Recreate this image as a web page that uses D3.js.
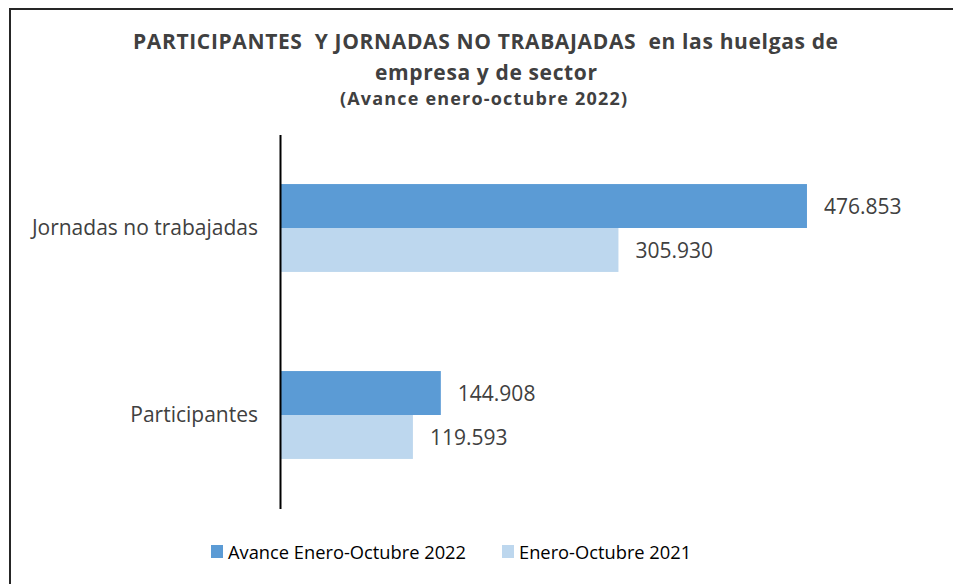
<!DOCTYPE html>
<html>
<head>
<meta charset="utf-8">
<script src="https://cdn.jsdelivr.net/npm/d3@7"></script>
<style>
  body { margin: 0; background: #fff; }
  svg { display: block; font-family: "Open Sans", sans-serif; }
</style>
</head>
<body>
<svg id="chart"></svg>
<script>
const categories = ["Jornadas no trabajadas", "Participantes"];
const seriesNames = ["Avance Enero-Octubre 2022", "Enero-Octubre 2021"];
const values2022 = [476853, 144908];
const values2021 = [305930, 119593];
const titleLines = ["PARTICIPANTES  Y JORNADAS NO TRABAJADAS  en las huelgas de", "empresa y de sector", "(Avance enero-octubre 2022)"];

const colors = ["#5B9BD5", "#BDD7EE"];
var width = 953, height = 584;

var svg = d3.select("#chart").attr("width", width).attr("height", height);

// frame (right and bottom edges run off the picture)
svg.append("rect")
  .attr("x", 10).attr("y", 9)
  .attr("width", 960).attr("height", 600)
  .attr("fill", "none").attr("stroke", "#262626").attr("stroke-width", 2);

// title, stretched to the widths in the original
var title = svg.append("g").attr("fill", "#404040").attr("font-weight", "bold").attr("text-anchor", "middle");
[
  {y: 49, size: 21, len: 705, cx: 485.5},
  {y: 80, size: 21, len: 222, cx: 486},
  {y: 105, size: 18, len: 287, cx: 483.5}
].forEach((t, i) => {
  title.append("text")
    .attr("x", t.cx).attr("y", t.y)
    .attr("font-size", t.size)
    .attr("textLength", t.len).attr("lengthAdjust", "spacing")
    .attr("xml:space", "preserve")
    .style("white-space", "pre")
    .text(titleLines[i]);
});

var locale = d3.formatLocale({decimal: ",", thousands: ".", grouping: [3], currency: ["", "€"]});
var fmt = locale.format(",d");

var y = d3.scaleBand().domain(categories).range([134.5, 508.5]).paddingInner(0.53).paddingOuter(0.265);
var ySub = d3.scaleBand().domain(seriesNames).range([0, y.bandwidth()]);
var x = d3.scaleLinear().domain([0, 500000]).range([281, 832.5]);

var rows = categories.map((c, i) => ({cat: c, vals: [values2022[i], values2021[i]]}));

var groups = svg.selectAll("g.cat").data(rows).enter().append("g")
  .attr("class", "cat")
  .attr("transform", d => "translate(0," + y(d.cat) + ")");

groups.selectAll("rect").data(d => d.vals.map((v, j) => ({v: v, s: seriesNames[j], j: j})))
  .enter().append("rect")
  .attr("x", x(0))
  .attr("y", d => ySub(d.s))
  .attr("width", d => x(d.v) - x(0))
  .attr("height", ySub.bandwidth())
  .attr("fill", d => colors[d.j]);

groups.selectAll("text.val").data(d => d.vals.map((v, j) => ({v: v, s: seriesNames[j]})))
  .enter().append("text")
  .attr("class", "val")
  .attr("x", d => x(d.v) + 17)
  .attr("y", d => ySub(d.s) + ySub.bandwidth() / 2)
  .attr("dy", "0.36em")
  .attr("font-size", 21)
  .attr("fill", "#404040")
  .text(d => fmt(d.v));

// category axis
var axis = svg.append("g").attr("transform", "translate(280,0)")
  .call(d3.axisLeft(y).tickSize(0).tickPadding(22))
  .attr("font-family", null).attr("font-size", null);
axis.select(".domain").attr("stroke", "#000").attr("stroke-width", 2);
axis.selectAll("text").attr("font-size", 21).attr("fill", "#404040").attr("dy", "0.34em");

// legend
var legend = svg.append("g").selectAll("g").data(seriesNames).enter().append("g")
  .attr("transform", (d, i) => "translate(" + [211, 502][i] + ",545)");
legend.append("rect").attr("width", 12).attr("height", 13).attr("fill", (d, i) => colors[i]);
legend.append("text").attr("x", 17).attr("y", 7).attr("dy", "0.36em")
  .attr("font-size", 18.3).attr("fill", "#000").text(d => d);
</script>
</body>
</html>
